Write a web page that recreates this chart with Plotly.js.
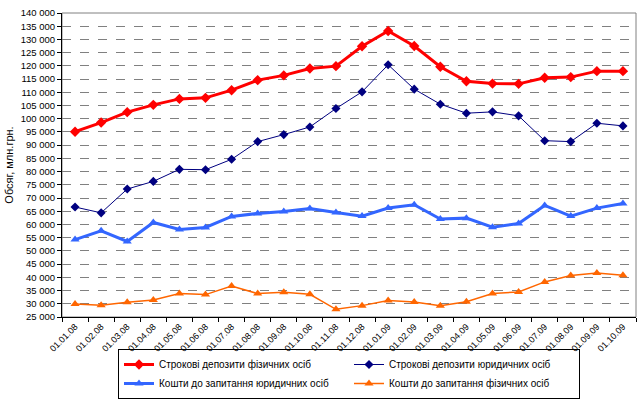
<!DOCTYPE html>
<html>
<head>
<meta charset="utf-8">
<script src="https://cdn.plot.ly/plotly-3.0.1.min.js"></script>
<style>html,body{margin:0;padding:0;background:#fff;}#chart{width:643px;height:399px;}</style>
</head>
<body>
<div id="chart"></div>
<script>
const categories = ["01.01.08","01.02.08","01.03.08","01.04.08","01.05.08","01.06.08","01.07.08","01.08.08","01.09.08","01.10.08","01.11.08","01.12.08","01.01.09","01.02.09","01.03.09","01.04.09","01.05.09","01.06.09","01.07.09","01.08.09","01.09.09","01.10.09"];
const termIndividuals = [95100,98550,102500,105250,107500,107900,110800,114600,116400,119000,119900,127400,133200,127500,119650,114200,113300,113200,115500,115750,118000,118000];
const termLegal = [66600,64400,73400,76300,80860,80730,84650,91350,94000,96900,103860,110180,120410,111200,105500,102100,102600,101100,91700,91350,98300,97300];
const demandLegal = [54300,57600,53560,60760,58100,58870,63040,64180,64930,66070,64550,63160,66200,67460,62030,62400,58990,60380,67210,63160,66200,67970];
const demandIndividuals = [29930,29420,30560,31450,33850,33470,36750,33850,34350,33600,27900,29300,31200,30700,29300,30800,33850,34500,38270,40670,41670,40800];
const seriesNames = ["Строкові депозити фізичних осіб","Строкові депозити юридичних осіб","Кошти до запитання юридичних осіб","Кошти до запитання фізичних осіб"];

const traces = [
  {x: categories, y: termIndividuals, name: seriesNames[0], mode: "lines+markers",
   line: {color: "#FF0000", width: 3}, marker: {symbol: "diamond", size: 8, color: "#FF0000"}},
  {x: categories, y: termLegal, name: seriesNames[1], mode: "lines+markers",
   line: {color: "#000080", width: 1}, marker: {symbol: "diamond", size: 7, color: "#000080"}},
  {x: categories, y: demandLegal, name: seriesNames[2], mode: "lines+markers",
   line: {color: "#3366FF", width: 3}, marker: {symbol: "triangle-up", size: 8, color: "#3366FF"}},
  {x: categories, y: demandIndividuals, name: seriesNames[3], mode: "lines+markers",
   line: {color: "#FF6600", width: 1.5}, marker: {symbol: "triangle-up", size: 8, color: "#FF6600"}}
];

const layout = {
  width: 643, height: 399,
  margin: {l: 62, r: 7, t: 13, b: 82},
  paper_bgcolor: "#fff", plot_bgcolor: "#fff",
  separators: ". ",
  font: {family: "Arial, 'Liberation Sans', sans-serif", size: 10, color: "#000"},
  showlegend: true,
  legend: {orientation: "h", xref: "paper", yref: "container", x: 0.5, xanchor: "center", y: 0.0, yanchor: "bottom",
    bordercolor: "#000", borderwidth: 1, entrywidth: 185, tracegroupgap: 0, bgcolor: "rgba(255,255,255,0)",
    font: {size: 10}, itemwidth: 30},
  xaxis: {type: "category", tickangle: -45, tickson: "boundaries", ticks: "outside", ticklen: 4,
    tickcolor: "#000", showline: true, linecolor: "#000", linewidth: 1, showgrid: false,
    tickfont: {size: 9}, range: [-0.5, 21.5], automargin: false},
  yaxis: {range: [25000, 140000], dtick: 5000, tick0: 25000, tickformat: ",d",
    ticks: "outside", ticklen: 4, tickcolor: "#000", showline: true, linecolor: "#000", linewidth: 1,
    showgrid: true, gridcolor: "#808080", griddash: "dash", gridwidth: 1, zeroline: false, automargin: false,
    title: {text: "Обсяг, млн.грн.", font: {size: 11}, standoff: 4}, tickfont: {size: 9.5}},
  shapes: [{type: "rect", xref: "paper", yref: "paper", x0: 0, x1: 1, y0: 0, y1: 1,
    line: {color: "#808080", width: 1}, layer: "below"}]
};

Plotly.newPlot("chart", traces, layout, {displayModeBar: false, staticPlot: true});
</script>
</body>
</html>
